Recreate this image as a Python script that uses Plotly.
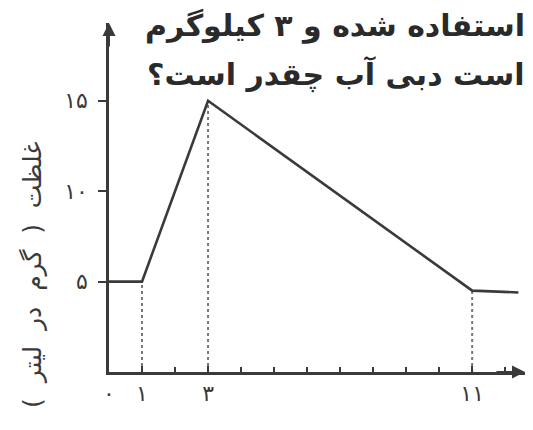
import plotly.graph_objects as go

# concentration curve (time, concentration)
time = [0, 1, 3, 11, 12.4]
conc = [5, 5, 15, 4.5, 4.4]

# dotted guide lines drop from the curve to the time axis
guide_x = [1, 3, 11]
guide_y = [5, 15, 4.5]

x_tickvals = [0, 1, 3, 11]
x_ticktext = ["۰", "۱", "۳", "۱۱"]
y_tickvals = [5, 10, 15]
y_ticktext = ["۵", "۱۰", "۱۵"]

y_title = "غلظت  (  گرم  در  لیتر  )"
question = ["استفاده شده و ۳ کیلوگرم", "است دبی آب چقدر است؟"]

_INK = "#3a3a3a"
_FONT = "DejaVu Sans"

# page body adds a small offset, margins account for it
L, R, T, B = 101, 16, 15, 66
PLOT_H = 430 - T - B
PLOT_W = 533 - L - R
Y_TOP = 19.3

fig = go.Figure()
for gx, gy in zip(guide_x, guide_y):
    fig.add_trace(go.Scatter(
        x=[gx, gx], y=[0, gy], mode="lines",
        line=dict(color="#777", width=2, dash="dot"),
        hoverinfo="skip",
    ))
fig.add_trace(go.Scatter(
    x=time, y=conc, mode="lines",
    line=dict(color=_INK, width=2.6),
))

fig.update_layout(
    width=533, height=430,
    margin=dict(l=L, r=R, t=T, b=B),
    paper_bgcolor="white", plot_bgcolor="white",
    showlegend=False,
    font=dict(family=_FONT, color=_INK),
    xaxis=dict(
        range=[0, 12.6], showgrid=False, zeroline=False, automargin=False,
        showline=True, linecolor=_INK, linewidth=2.5,
        tickvals=x_tickvals, ticktext=x_ticktext,
        ticks="inside", ticklen=6, tickwidth=2, tickcolor=_INK,
        tickfont=dict(size=22),
        minor=dict(dtick=1, ticks="inside", ticklen=5, tickcolor=_INK, tickwidth=1.5),
    ),
    yaxis=dict(
        range=[0, Y_TOP], showgrid=False, zeroline=False, automargin=False,
        showline=True, linecolor=_INK, linewidth=2.5,
        tickvals=y_tickvals, ticktext=y_ticktext,
        ticks="outside", ticklen=8, tickwidth=2, tickcolor=_INK,
        tickfont=dict(size=22), ticklabelstandoff=6,
    ),
)

# axis arrows
fig.add_annotation(x=12.6, y=0, ax=-30, ay=0, xref="x", yref="y",
                   showarrow=True, arrowhead=2, arrowsize=1.3, arrowwidth=2, arrowcolor=_INK, text="")
fig.add_annotation(x=0, y=Y_TOP, ax=0, ay=25, xref="x", yref="y",
                   showarrow=True, arrowhead=2, arrowsize=1.3, arrowwidth=2, arrowcolor=_INK, text="")

# rotated y title, sitting lower than the plot centre
fig.add_annotation(
    x=(24 - L) / PLOT_W, y=1 - (267 - T) / PLOT_H, xref="paper", yref="paper",
    xanchor="center", yanchor="middle",
    textangle=-90, showarrow=False, text=y_title, font=dict(size=25, color=_INK),
)

# question text overlapping the top of the chart
for line, top_px in zip(question, [-2, 46]):
    fig.add_annotation(
        x=1, y=1 + (T - top_px) / PLOT_H, xref="paper", yref="paper",
        xanchor="right", yanchor="top", showarrow=False, xshift=2,
        text=f"<b>{line}</b>", font=dict(size=30, color="#2a2a2a"),
    )

fig.write_html("out.html")
